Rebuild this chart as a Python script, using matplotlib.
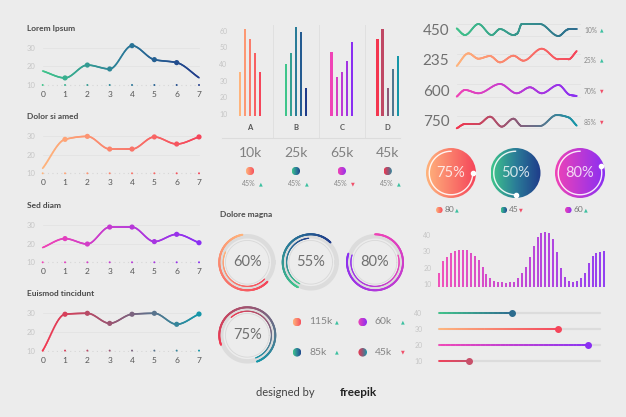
import numpy as np
import matplotlib
matplotlib.use("Agg")
import matplotlib.pyplot as plt
from matplotlib.collections import LineCollection
from matplotlib.colors import LinearSegmentedColormap
from matplotlib.patches import Circle

plt.rcParams['font.family'] = ['Lato', 'DejaVu Sans']

W, H = 626, 417
BG = '#ececec'

# ---------------- data ----------------
line_x = [0, 1, 2, 3, 4, 5, 6, 7]
lorem_vals = [17.5, 13.8, 20.7, 18.6, 31.1, 23.6, 22.0, 13.9]
dolor_vals = [12.7, 28.2, 29.8, 23.0, 23.0, 29.5, 25.7, 29.5]
sed_vals = [17.9, 22.7, 19.8, 28.9, 28.9, 21.1, 25.0, 20.5]
euismod_vals = [10.0, 29.5, 30.0, 24.6, 29.5, 30.0, 24.1, 29.6]
line_titles = ['Lorem Ipsum', 'Dolor si amed', 'Sed diam', 'Euismod tincidunt']

bar_groups = ['A', 'B', 'C', 'D']
bars_a = [35.5, 61, 55, 46.5, 35.3]
bars_b = [40, 46.5, 62, 59, 25.5]
bars_c = [47.5, 32, 35.3, 42, 53]
bars_d = [55, 61, 25.5, 37, 45]
group_totals = ['10k', '25k', '65k', '45k']
group_change = ['45%', '45%', '45%', '45%']
group_up = [True, True, False, True]

spark_names = ['450', '235', '600', '750']
spark_change = ['10%', '25%', '70%', '85%']
spark_up = [True, True, False, False]
spark_450_t = [0, 0.83, 2.17, 3.5, 4.33, 5.67, 6.07, 6.5, 8.33, 10.17, 11.17, 12]
spark_450_v = [25, 5, 38, 5, 23, 5, 10, 38, 38, 2, 22, 22]
spark_235_t = [0, 1.17, 2.17, 3.33, 4.33, 5.67, 6.67, 8.5, 10.17, 11.17, 12]
spark_235_v = [2, 40, 24, 32, 13, 33, 18, 54, 22, 22, 47]
spark_600_t = [0, 0.83, 2.17, 4.33, 6, 7.33, 8.5, 10.17, 11.33, 12]
spark_600_v = [2, 22, 12, 40, 12, 30, 12, 37, 7, 4]
spark_750_t = [0, 0.83, 2.17, 3.33, 4.5, 5.67, 6.5, 8.33, 10, 11.17, 12]
spark_750_v = [2, 15, 15, 37, 7, 31, 9, 9, 42, 35, 10]

gauge_pct = [75, 50, 80]
gauge_counts = ['80', '45', '60']
gauge_up = [True, False, True]

ring_pct = [60, 55, 80, 75]
ring_totals = ['115k', '85k', '60k', '45k']
ring_up = [True, True, True, False]

hist_vals = [16.9, 23.9, 26.7, 29.0, 30.4, 31.0, 31.0, 30.6, 29.0, 27.1,
             24.5, 20.4, 16.3, 13.9, 11.8, 11.2, 11.0, 10.8, 11.0, 11.4,
             13.5, 16.7, 20.4, 26.5, 33.5, 38.6, 41.2, 41.8, 41.0, 37.4,
             29.8, 20.0, 14.5, 11.8, 11.4, 11.8, 13.5, 16.9, 23.0, 27.3,
             28.8, 29.8, 30.0]

slider_levels = [40, 30, 20, 10]
slider_vals = [45.5, 74.1, 92.3, 18.6]

# ---------------- colours ----------------
GREEN = LinearSegmentedColormap.from_list('g', ['#3fc58b', '#2a7c98', '#1f3b8a'])
GREEN_S = LinearSegmentedColormap.from_list('gs', ['#3fc28a', '#2c6c8e'])
ORANGE = LinearSegmentedColormap.from_list('o', ['#ffb47c', '#f5455a'])
PINK = LinearSegmentedColormap.from_list('p', ['#f043b6', '#8a2ff2'])
REDTEAL = LinearSegmentedColormap.from_list('rt', ['#f4364f', '#8c5a78', '#1596a8'])
REDDARK = LinearSegmentedColormap.from_list('rd', ['#f0405a', '#c8506a'])
UP_C, DOWN_C = '#3cc0a0', '#f0506a'

fig = plt.figure(figsize=(W / 100, H / 100), dpi=100, facecolor=BG)


def ftext(x, y, s, **kw):
    kw.setdefault('ha', 'center')
    kw.setdefault('va', 'center')
    fig.text(x / W, 1 - y / H, s, **kw)


def place(xd, xp, yd, yp, xlim, ylim):
    # axes whose data coords land on the given pixel positions
    sx = (xp[1] - xp[0]) / (xd[1] - xd[0])
    sy = (yp[1] - yp[0]) / (yd[1] - yd[0])
    px0 = xp[0] + (xlim[0] - xd[0]) * sx
    px1 = xp[0] + (xlim[1] - xd[0]) * sx
    py0 = yp[0] + (ylim[0] - yd[0]) * sy
    py1 = yp[0] + (ylim[1] - yd[0]) * sy
    ax = fig.add_axes([px0 / W, 1 - py0 / H, (px1 - px0) / W, (py0 - py1) / H])
    ax.set_xlim(xlim)
    ax.set_ylim(ylim)
    ax.patch.set_visible(False)
    for s in ax.spines.values():
        s.set_visible(False)
    return ax


def smooth_curve(x, y, n=24):
    # monotone cubic through the points, only for drawing the curve
    x = np.asarray(x, float)
    y = np.asarray(y, float)
    h = np.diff(x)
    d = np.diff(y) / h
    m = np.empty_like(y)
    m[0], m[-1] = d[0], d[-1]
    for k in range(1, len(x) - 1):
        if d[k - 1] * d[k] <= 0:
            m[k] = 0.0
        else:
            w1, w2 = 2 * h[k] + h[k - 1], h[k] + 2 * h[k - 1]
            m[k] = (w1 + w2) / (w1 / d[k - 1] + w2 / d[k])
    xs, ys = [x[:1]], [y[:1]]
    s = np.linspace(0, 1, n)[1:]
    for k in range(len(x) - 1):
        h00 = 2 * s**3 - 3 * s**2 + 1
        h10 = s**3 - 2 * s**2 + s
        h01 = -2 * s**3 + 3 * s**2
        h11 = s**3 - s**2
        xs.append(x[k] + s * h[k])
        ys.append(h00 * y[k] + h10 * h[k] * m[k] + h01 * y[k + 1] + h11 * h[k] * m[k + 1])
    return np.concatenate(xs), np.concatenate(ys)


def gradient_line(ax, xs, ys, cmap, lw, c=None, zorder=3):
    pts = np.column_stack([xs, ys]).reshape(-1, 1, 2)
    segs = np.concatenate([pts[:-1], pts[1:]], axis=1)
    lc = LineCollection(segs, cmap=cmap, linewidths=lw, capstyle='round', zorder=zorder)
    if c is None:
        c = (xs[:-1] + xs[1:]) / 2
    lc.set_array(np.asarray(c))
    lc.set_clim(np.min(c), np.max(c))
    ax.add_collection(lc)


def disc_axes(cx, cy, r, pad=1.0):
    ax = fig.add_axes([(cx - r * pad) / W, 1 - (cy + r * pad) / H, 2 * r * pad / W, 2 * r * pad / H])
    ax.axis('off')
    return ax


def grad_disc(cx, cy, r, cmap, pad=1.0):
    ax = disc_axes(cx, cy, r, pad)
    im = ax.imshow(np.linspace(0, 1, 256)[None, :], cmap=cmap, extent=(-1, 1, -1, 1),
                   aspect='auto', interpolation='bilinear')
    im.set_clip_path(Circle((0, 0), 1, transform=ax.transData))
    ax.set_xlim(-pad, pad)
    ax.set_ylim(-pad, pad)
    return ax


def arrow(x, y, up, size=4):
    ftext(x, y, '\u25b2' if up else '\u25bc', color=UP_C if up else DOWN_C, fontsize=size)


# ---------------- left column: line charts ----------------
line_series = [lorem_vals, dolor_vals, sed_vals, euismod_vals]
line_cmaps = [GREEN, ORANGE, PINK, REDTEAL]
line_y30 = [47.7, 136.0, 225.0, 313.3]
last_marker = [6, 7, 7, 7]

for vals, cmap, y30, title, last in zip(line_series, line_cmaps, line_y30, line_titles, last_marker):
    ax = place((0, 7), (42.7, 199), (10, 30), (y30 + 37.3, y30), (-0.25, 7.4), (9, 34))
    ftext(26.7, y30 - 19.5, title, ha='left', fontsize=6, color='#4a4a4a', fontweight='bold')
    for gy in [20, 30]:
        ax.plot([0, 7], [gy, gy], color='#e3e3e3', lw=0.6, zorder=1)
    ax.plot([0, 7], [10, 10], color='#d6d6d6', lw=0.8, ls=(0, (1, 3)), zorder=1)
    ax.scatter(line_x, [10] * 8, s=2, c=line_x, cmap=cmap, vmin=0, vmax=7, zorder=2, lw=0)
    xs, ys = smooth_curve(line_x, vals)
    gradient_line(ax, xs, ys, cmap, 1.2)
    mx = line_x[1:last + 1]
    ax.scatter(mx, vals[1:last + 1], s=14, c=mx, cmap=cmap, vmin=0, vmax=7, zorder=4, lw=0)
    ax.set_xticks(line_x)
    ax.set_yticks([10, 20, 30])
    ax.tick_params(length=0)
    ax.tick_params(axis='y', labelsize=5.5, labelcolor='#c6c6c6', pad=1.5)
    ax.tick_params(axis='x', labelsize=6, labelcolor='#555555', pad=3)

# ---------------- middle top: bar chart ----------------
bar_sets = [bars_a, bars_b, bars_c, bars_d]
bar_cmaps = [ORANGE, GREEN, PINK, REDTEAL]
bx = place((2, 29), (250, 387.7), (10, 60), (114, 30.7), (-2, 31.5), (-4.4, 64))
for g, (vals, cmap) in enumerate(zip(bar_sets, bar_cmaps)):
    xs = [g * 9 + j for j in range(len(vals))]
    cols = [cmap(j / (len(vals) - 1)) for j in range(len(vals))]
    bx.bar(xs, [v - 9 for v in vals], bottom=9, width=0.45, color=cols, lw=0, zorder=3)
    bx.text(g * 9 + 2, 1.6, bar_groups[g], ha='center', va='center', fontsize=5.5,
            color='#555555', fontweight='bold')
for sx in [6.5, 15.5, 24.5]:
    bx.plot([sx, sx], [-4.4, 63.4], color='#e0e0e0', lw=0.7, zorder=1)
bx.plot([-3.5, 31.5], [-4.4, -4.4], color='#dcdcdc', lw=0.8, clip_on=False)
bx.set_xticks([])
bx.set_yticks([10, 20, 30, 40, 50, 60])
bx.tick_params(length=0, labelsize=5, labelcolor='#c6c6c6', pad=1.5)

for g in range(4):
    cx = 250 + 45.9 * g
    ftext(cx, 153, group_totals[g], fontsize=10, color='#808080')
    grad_disc(cx, 171, 4.2, bar_cmaps[g])
    ftext(cx - 1, 184, group_change[g], fontsize=5, color='#888888')
    arrow(cx + 10.7, 183.5, group_up[g], size=3.5)

# ---------------- top right: sparklines ----------------
spark_t = [spark_450_t, spark_235_t, spark_600_t, spark_750_t]
spark_v = [spark_450_v, spark_235_v, spark_600_v, spark_750_v]
spark_cmaps = [GREEN_S, ORANGE, PINK, REDTEAL]
spark_base = [36.7, 66.7, 97.3, 129.0]
spark_label_y = [30.7, 60.7, 91.7, 122.3]
for t, v, cmap, y0, ly, name, chg, up in zip(spark_t, spark_v, spark_cmaps, spark_base,
                                             spark_label_y, spark_names, spark_change, spark_up):
    ax = place((0, 12), (456.7, 576.7), (0, 30), (y0, y0 - 10), (-0.5, 12.5), (-8, 60))
    ax.axis('off')
    for gy in [2, 39]:
        ax.plot([0, 12.3], [gy, gy], color='#e2e2e2', lw=0.6, zorder=1)
    xs, ys = smooth_curve(t, v)
    gradient_line(ax, xs, ys, cmap, 1.3)
    ftext(436, ly, name, fontsize=11, color='#707070')
    ftext(590.5, ly, chg, fontsize=4.8, color='#888888')
    arrow(602, ly - 0.5, up, size=3.3)

# ---------------- right middle: gradient gauges ----------------
gauge_cmaps = [ORANGE, GREEN, PINK]
for k, (pct, cmap) in enumerate(zip(gauge_pct, gauge_cmaps)):
    cx = 451 + 64.5 * k
    ax = grad_disc(cx, 173, 25, cmap, pad=1.1)
    th = np.radians(np.linspace(90, 90 + pct * 3.6, 200))
    ax.plot(0.87 * np.cos(th), 0.87 * np.sin(th), color='white', lw=1.0, alpha=0.9)
    ax.plot(0.87 * np.cos(th[-1]), 0.87 * np.sin(th[-1]), 'o', color='white', ms=3)
    ax.text(0, 0, f'{pct}%', ha='center', va='center', fontsize=10.5,
            color='white', alpha=0.8)
    grad_disc(cx - 11.7, 210, 3.3, cmap)
    ftext(cx - 1.5, 210, gauge_counts[k], fontsize=6, color='#777777')
    arrow(cx + 5.8, 210, gauge_up[k], size=3.5)

# ---------------- middle bottom: ring charts ----------------
ftext(220, 215, 'Dolore magna', ha='left', fontsize=6, color='#4a4a4a', fontweight='bold')
ring_centres = [(247.3, 262.3), (310.7, 262.3), (375.0, 262.3), (247.3, 335.3)]
ring_cmaps = [ORANGE, GREEN.reversed(), PINK, REDTEAL]
ring_start = [100, 45, 90, 200]
ring_dir = [1, 1, -1, -1]
for pct, (cx, cy), cmap, a0, sgn in zip(ring_pct, ring_centres, ring_cmaps, ring_start, ring_dir):
    ax = disc_axes(cx, cy, 28, pad=1.12)
    ax.set_xlim(-1.12, 1.12)
    ax.set_ylim(-1.12, 1.12)
    full = np.radians(np.linspace(0, 360, 300))
    ax.plot(0.93 * np.cos(full), 0.93 * np.sin(full), color='#dcdcdc', lw=3.2)
    ax.plot(0.78 * np.cos(full), 0.78 * np.sin(full), color='#d8d8d8', lw=0.6)
    th = np.radians(np.linspace(a0, a0 + sgn * pct * 3.6, 200))
    c = np.linspace(0, 1, len(th) - 1)
    gradient_line(ax, 1.0 * np.cos(th), 1.0 * np.sin(th), cmap, 1.4, c=c)
    th2 = th[len(th) // 4:]
    gradient_line(ax, 0.86 * np.cos(th2), 0.86 * np.sin(th2), cmap, 0.8,
                  c=np.linspace(0.25, 1, len(th2) - 1))
    ax.text(0, 0, f'{pct}%', ha='center', va='center', fontsize=10.5, color='#707070')

legend_pos = [(297, 322), (297, 352.3), (362.7, 322), (362.7, 352.3)]
legend_cmaps = [ORANGE, GREEN, PINK, REDTEAL]
for (dx, dy), cmap, tot, up in zip(legend_pos, legend_cmaps, ring_totals, ring_up):
    grad_disc(dx, dy, 4.3, cmap)
    ftext(dx + 12, dy, tot, ha='left', fontsize=7.5, color='#858585')
    arrow(dx + 40, dy, up, size=3.5)

# ---------------- bottom right: histogram ----------------
hist_x = list(range(len(hist_vals)))
hx = place((0, 42), (439.3, 604.3), (10, 40), (284, 235), (-1.5, 43), (7, 45))
hx.vlines(hist_x, 8.4, hist_vals, lw=1.3,
          colors=[PINK(i / (len(hist_vals) - 1)) for i in hist_x])
hx.set_xticks([])
hx.set_yticks([10, 20, 30, 40])
hx.tick_params(length=0, labelsize=5, labelcolor='#c6c6c6', pad=1.5)

# ---------------- bottom right: sliders ----------------
slider_cmaps = [GREEN_S, ORANGE, PINK, REDDARK]
sx = place((0, 100), (439, 600), (10, 40), (361, 313), (-9, 101), (5, 45))
for lvl, val, cmap in zip(slider_levels, slider_vals, slider_cmaps):
    sx.plot([0, 100], [lvl, lvl], color='#dcdcdc', lw=1.6, solid_capstyle='round', zorder=1)
    xs = np.linspace(0, val, 60)
    gradient_line(sx, xs, np.full_like(xs, lvl), cmap, 1.3)
    sx.plot([val], [lvl], 'o', color=cmap(1.0), ms=4, zorder=4)
sx.set_xticks([])
sx.set_yticks(slider_levels)
sx.tick_params(length=0, labelsize=5, labelcolor='#c6c6c6', pad=1.5)

# ---------------- footer ----------------
ftext(315, 393, 'designed by', ha='right', fontsize=8, color='#444444')
ftext(340, 392.5, 'freepik', ha='left', fontsize=8.5, color='#222222', fontweight='bold')

fig.savefig('out.png', dpi=100, facecolor=BG)
